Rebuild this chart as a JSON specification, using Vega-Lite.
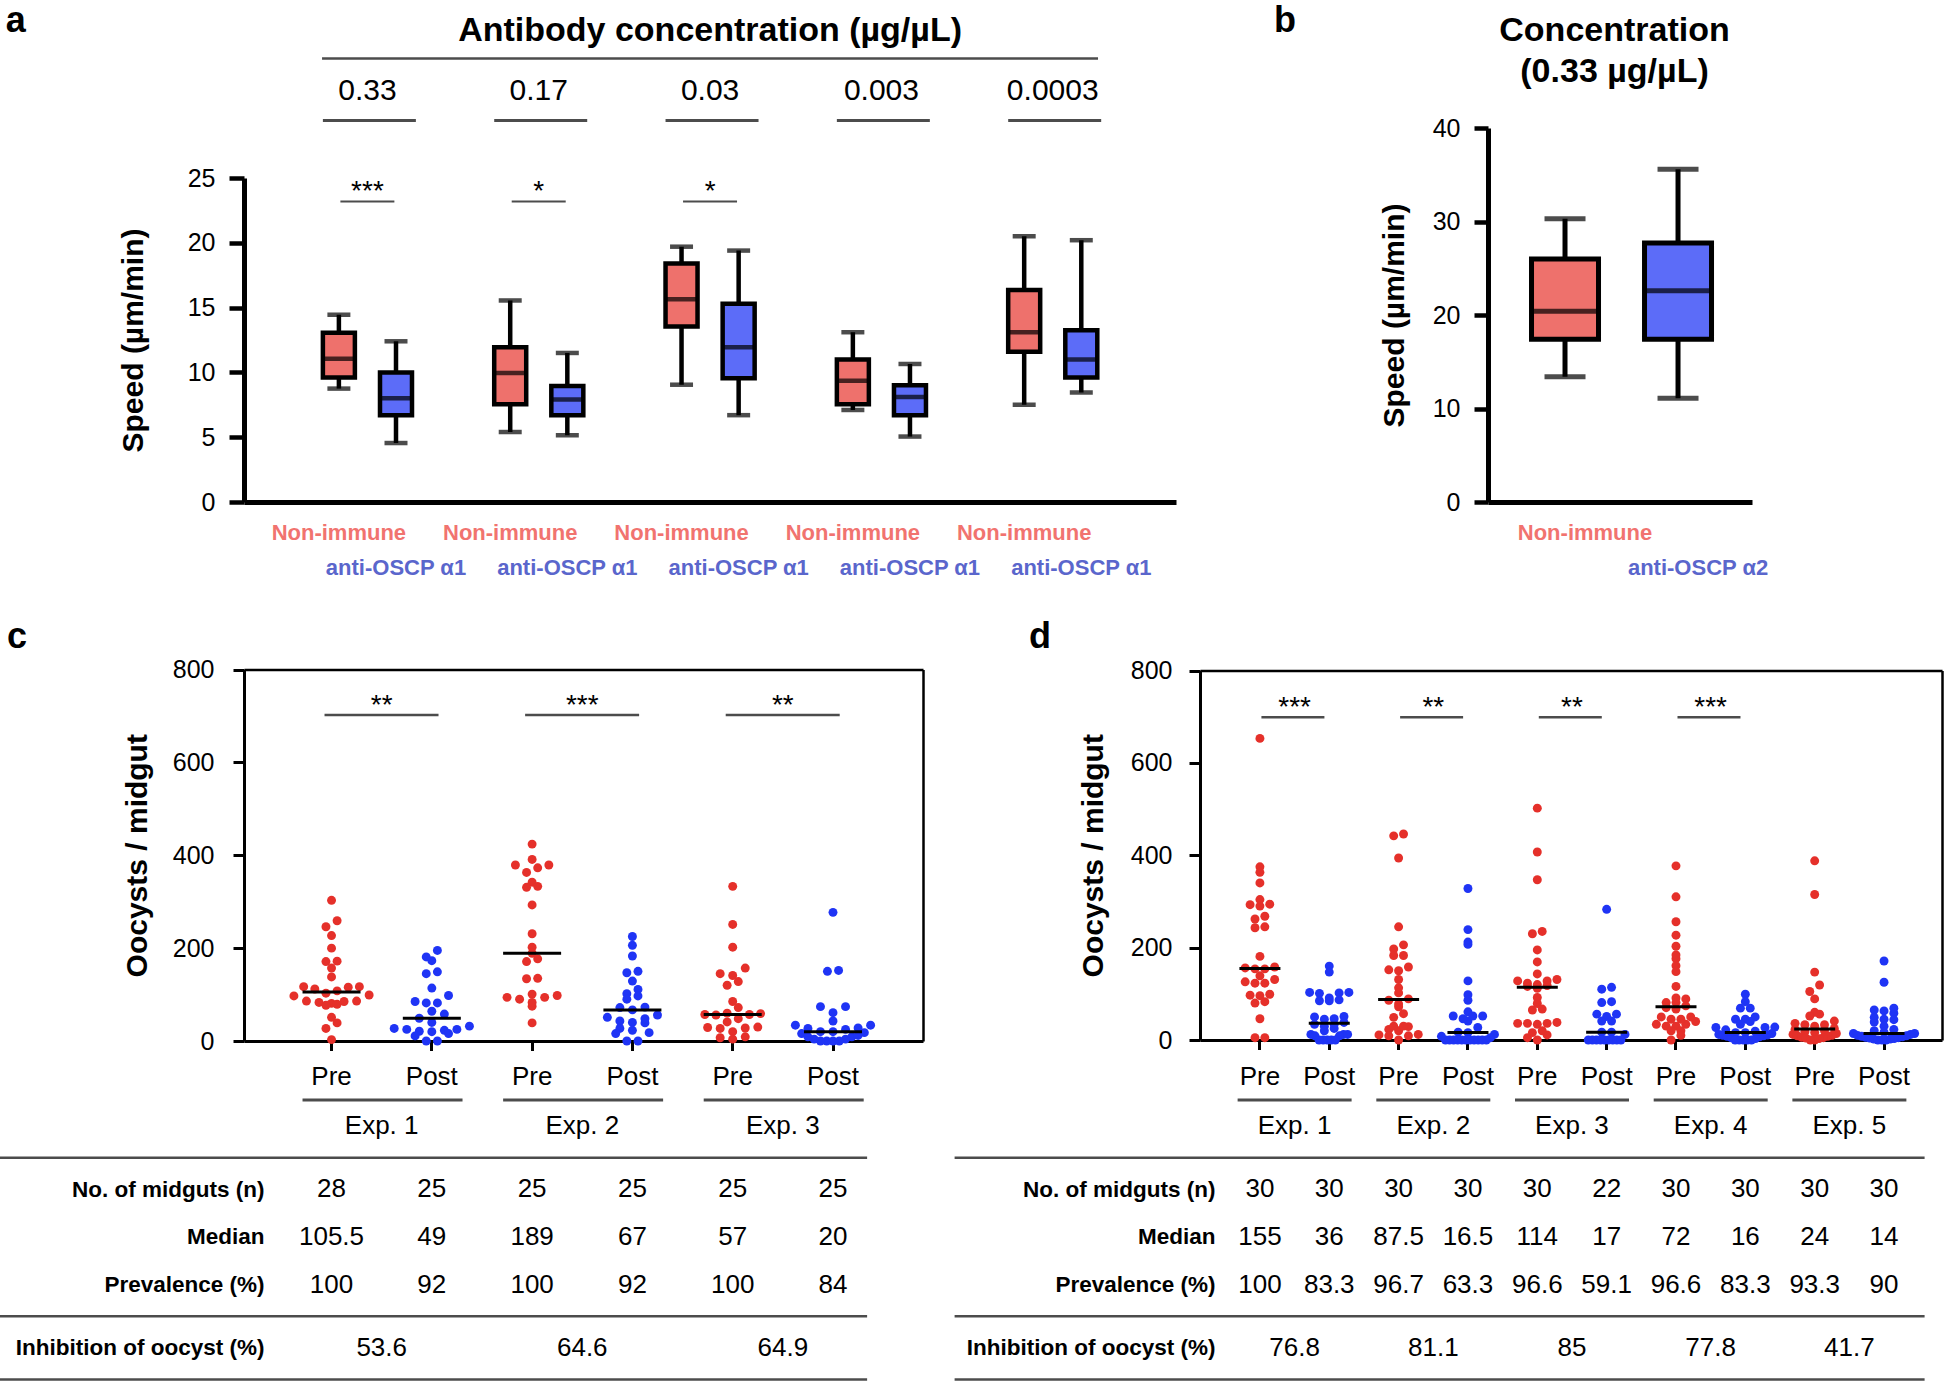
{
"$schema": "https://vega.github.io/schema/vega-lite/v6.json",
"width": 1947, "height": 1384, "padding": 0,
"autosize": {"type": "none"},
"background": "white",
"config": {
  "view": {"stroke": null},
  "font": "Liberation Sans",
  "axis": {"grid": false, "labelFont": "Liberation Sans", "titleFont": "Liberation Sans", "domainColor": "black", "tickColor": "black", "labelColor": "black", "titleColor": "black", "labelOverlap": false, "labelBound": false, "labelFlush": false, "labelLimit": 0},
  "text": {"font": "Liberation Sans", "color": "black"}
},
"resolve": {"scale": {"x": "independent", "y": "independent", "xOffset": "independent"}, "axis": {"x": "independent", "y": "independent"}},
"datasets": {
  "boxA": [
    {"key":"0.33|Non-immune","group":"Non-immune","lo":8.75,"q1":9.6,"med":11.05,"q3":13.05,"hi":14.45},
    {"key":"0.33|anti-OSCP α1","group":"anti-OSCP α1","lo":4.55,"q1":6.7,"med":8.0,"q3":10.0,"hi":12.4},
    {"key":"0.17|Non-immune","group":"Non-immune","lo":5.4,"q1":7.55,"med":9.95,"q3":11.95,"hi":15.55},
    {"key":"0.17|anti-OSCP α1","group":"anti-OSCP α1","lo":5.15,"q1":6.7,"med":7.9,"q3":8.95,"hi":11.5},
    {"key":"0.03|Non-immune","group":"Non-immune","lo":9.05,"q1":13.55,"med":15.65,"q3":18.4,"hi":19.7},
    {"key":"0.03|anti-OSCP α1","group":"anti-OSCP α1","lo":6.7,"q1":9.55,"med":11.95,"q3":15.3,"hi":19.4},
    {"key":"0.003|Non-immune","group":"Non-immune","lo":7.1,"q1":7.55,"med":9.35,"q3":11.0,"hi":13.1},
    {"key":"0.003|anti-OSCP α1","group":"anti-OSCP α1","lo":5.05,"q1":6.7,"med":8.1,"q3":9.0,"hi":10.65},
    {"key":"0.0003|Non-immune","group":"Non-immune","lo":7.5,"q1":11.6,"med":13.1,"q3":16.35,"hi":20.5},
    {"key":"0.0003|anti-OSCP α1","group":"anti-OSCP α1","lo":8.45,"q1":9.6,"med":11.0,"q3":13.25,"hi":20.2}
  ],
  "boxB": [
    {"group":"Non-immune","lo":13.4,"q1":17.4,"med":20.4,"q3":26.0,"hi":30.3},
    {"group":"anti-OSCP α2","lo":11.1,"q1":17.4,"med":22.6,"q3":27.7,"hi":35.6}
  ],
  "concA": [
    {"conc":"0.33","ni":"0.33|Non-immune"},
    {"conc":"0.17","ni":"0.17|Non-immune"},
    {"conc":"0.03","ni":"0.03|Non-immune"},
    {"conc":"0.003","ni":"0.003|Non-immune"},
    {"conc":"0.0003","ni":"0.0003|Non-immune"}
  ],
  "sigA": [
    {"ni":"0.33|Non-immune","stars":"***"},
    {"ni":"0.17|Non-immune","stars":"*"},
    {"ni":"0.03|Non-immune","stars":"*"}
  ],
  "sigC": [
    {"pre":"Exp. 1|Pre","stars":"**"},
    {"pre":"Exp. 2|Pre","stars":"***"},
    {"pre":"Exp. 3|Pre","stars":"**"}
  ],
  "sigD": [
    {"pre":"Exp. 1|Pre","stars":"***"},
    {"pre":"Exp. 2|Pre","stars":"**"},
    {"pre":"Exp. 3|Pre","stars":"**"},
    {"pre":"Exp. 4|Pre","stars":"***"}
  ],
  "expC": [
    {"exp":"Exp. 1","pre":"Exp. 1|Pre","inhib":"53.6"},
    {"exp":"Exp. 2","pre":"Exp. 2|Pre","inhib":"64.6"},
    {"exp":"Exp. 3","pre":"Exp. 3|Pre","inhib":"64.9"}
  ],
  "expD": [
    {"exp":"Exp. 1","pre":"Exp. 1|Pre","inhib":"76.8"},
    {"exp":"Exp. 2","pre":"Exp. 2|Pre","inhib":"81.1"},
    {"exp":"Exp. 3","pre":"Exp. 3|Pre","inhib":"85"},
    {"exp":"Exp. 4","pre":"Exp. 4|Pre","inhib":"77.8"},
    {"exp":"Exp. 5","pre":"Exp. 5|Pre","inhib":"41.7"}
  ],
  "lines": [{"line":"line1"},{"line":"line2"},{"line":"line3"}],
  "tabC": [
    {"row":"No. of midguts (n)","cat":"Exp. 1|Pre","val":"28"},
    {"row":"No. of midguts (n)","cat":"Exp. 1|Post","val":"25"},
    {"row":"No. of midguts (n)","cat":"Exp. 2|Pre","val":"25"},
    {"row":"No. of midguts (n)","cat":"Exp. 2|Post","val":"25"},
    {"row":"No. of midguts (n)","cat":"Exp. 3|Pre","val":"25"},
    {"row":"No. of midguts (n)","cat":"Exp. 3|Post","val":"25"},
    {"row":"Median","cat":"Exp. 1|Pre","val":"105.5"},
    {"row":"Median","cat":"Exp. 1|Post","val":"49"},
    {"row":"Median","cat":"Exp. 2|Pre","val":"189"},
    {"row":"Median","cat":"Exp. 2|Post","val":"67"},
    {"row":"Median","cat":"Exp. 3|Pre","val":"57"},
    {"row":"Median","cat":"Exp. 3|Post","val":"20"},
    {"row":"Prevalence (%)","cat":"Exp. 1|Pre","val":"100"},
    {"row":"Prevalence (%)","cat":"Exp. 1|Post","val":"92"},
    {"row":"Prevalence (%)","cat":"Exp. 2|Pre","val":"100"},
    {"row":"Prevalence (%)","cat":"Exp. 2|Post","val":"92"},
    {"row":"Prevalence (%)","cat":"Exp. 3|Pre","val":"100"},
    {"row":"Prevalence (%)","cat":"Exp. 3|Post","val":"84"}
  ],
  "tabD": [
    {"row":"No. of midguts (n)","cat":"Exp. 1|Pre","val":"30"},
    {"row":"No. of midguts (n)","cat":"Exp. 1|Post","val":"30"},
    {"row":"No. of midguts (n)","cat":"Exp. 2|Pre","val":"30"},
    {"row":"No. of midguts (n)","cat":"Exp. 2|Post","val":"30"},
    {"row":"No. of midguts (n)","cat":"Exp. 3|Pre","val":"30"},
    {"row":"No. of midguts (n)","cat":"Exp. 3|Post","val":"22"},
    {"row":"No. of midguts (n)","cat":"Exp. 4|Pre","val":"30"},
    {"row":"No. of midguts (n)","cat":"Exp. 4|Post","val":"30"},
    {"row":"No. of midguts (n)","cat":"Exp. 5|Pre","val":"30"},
    {"row":"No. of midguts (n)","cat":"Exp. 5|Post","val":"30"},
    {"row":"Median","cat":"Exp. 1|Pre","val":"155"},
    {"row":"Median","cat":"Exp. 1|Post","val":"36"},
    {"row":"Median","cat":"Exp. 2|Pre","val":"87.5"},
    {"row":"Median","cat":"Exp. 2|Post","val":"16.5"},
    {"row":"Median","cat":"Exp. 3|Pre","val":"114"},
    {"row":"Median","cat":"Exp. 3|Post","val":"17"},
    {"row":"Median","cat":"Exp. 4|Pre","val":"72"},
    {"row":"Median","cat":"Exp. 4|Post","val":"16"},
    {"row":"Median","cat":"Exp. 5|Pre","val":"24"},
    {"row":"Median","cat":"Exp. 5|Post","val":"14"},
    {"row":"Prevalence (%)","cat":"Exp. 1|Pre","val":"100"},
    {"row":"Prevalence (%)","cat":"Exp. 1|Post","val":"83.3"},
    {"row":"Prevalence (%)","cat":"Exp. 2|Pre","val":"96.7"},
    {"row":"Prevalence (%)","cat":"Exp. 2|Post","val":"63.3"},
    {"row":"Prevalence (%)","cat":"Exp. 3|Pre","val":"96.6"},
    {"row":"Prevalence (%)","cat":"Exp. 3|Post","val":"59.1"},
    {"row":"Prevalence (%)","cat":"Exp. 4|Pre","val":"96.6"},
    {"row":"Prevalence (%)","cat":"Exp. 4|Post","val":"83.3"},
    {"row":"Prevalence (%)","cat":"Exp. 5|Pre","val":"93.3"},
    {"row":"Prevalence (%)","cat":"Exp. 5|Post","val":"90"}
  ],
  "cDots": [
    {"cat":"Exp. 1|Pre","oocysts":303},{"cat":"Exp. 1|Pre","oocysts":259},{"cat":"Exp. 1|Pre","oocysts":246},{"cat":"Exp. 1|Pre","oocysts":227},{"cat":"Exp. 1|Pre","oocysts":200},{"cat":"Exp. 1|Pre","oocysts":172},{"cat":"Exp. 1|Pre","oocysts":171},{"cat":"Exp. 1|Pre","oocysts":157},{"cat":"Exp. 1|Pre","oocysts":138},{"cat":"Exp. 1|Pre","oocysts":117},{"cat":"Exp. 1|Pre","oocysts":112},{"cat":"Exp. 1|Pre","oocysts":103},{"cat":"Exp. 1|Pre","oocysts":108},{"cat":"Exp. 1|Pre","oocysts":116},{"cat":"Exp. 1|Pre","oocysts":117},{"cat":"Exp. 1|Pre","oocysts":99},{"cat":"Exp. 1|Pre","oocysts":86},{"cat":"Exp. 1|Pre","oocysts":85},{"cat":"Exp. 1|Pre","oocysts":81},{"cat":"Exp. 1|Pre","oocysts":77},{"cat":"Exp. 1|Pre","oocysts":79},{"cat":"Exp. 1|Pre","oocysts":83},{"cat":"Exp. 1|Pre","oocysts":86},{"cat":"Exp. 1|Pre","oocysts":97},{"cat":"Exp. 1|Pre","oocysts":51},{"cat":"Exp. 1|Pre","oocysts":39},{"cat":"Exp. 1|Pre","oocysts":27},{"cat":"Exp. 1|Pre","oocysts":3},
    {"cat":"Exp. 1|Post","oocysts":195},{"cat":"Exp. 1|Post","oocysts":173},{"cat":"Exp. 1|Post","oocysts":181},{"cat":"Exp. 1|Post","oocysts":145},{"cat":"Exp. 1|Post","oocysts":149},{"cat":"Exp. 1|Post","oocysts":114},{"cat":"Exp. 1|Post","oocysts":98},{"cat":"Exp. 1|Post","oocysts":85},{"cat":"Exp. 1|Post","oocysts":82},{"cat":"Exp. 1|Post","oocysts":82},{"cat":"Exp. 1|Post","oocysts":64},{"cat":"Exp. 1|Post","oocysts":58},{"cat":"Exp. 1|Post","oocysts":49},{"cat":"Exp. 1|Post","oocysts":40},{"cat":"Exp. 1|Post","oocysts":32},{"cat":"Exp. 1|Post","oocysts":27},{"cat":"Exp. 1|Post","oocysts":25},{"cat":"Exp. 1|Post","oocysts":21},{"cat":"Exp. 1|Post","oocysts":23},{"cat":"Exp. 1|Post","oocysts":25},{"cat":"Exp. 1|Post","oocysts":16},{"cat":"Exp. 1|Post","oocysts":0},{"cat":"Exp. 1|Post","oocysts":0},{"cat":"Exp. 1|Post","oocysts":11},{"cat":"Exp. 1|Post","oocysts":20},
    {"cat":"Exp. 2|Pre","oocysts":424},{"cat":"Exp. 2|Pre","oocysts":391},{"cat":"Exp. 2|Pre","oocysts":379},{"cat":"Exp. 2|Pre","oocysts":379},{"cat":"Exp. 2|Pre","oocysts":373},{"cat":"Exp. 2|Pre","oocysts":363},{"cat":"Exp. 2|Pre","oocysts":342},{"cat":"Exp. 2|Pre","oocysts":331},{"cat":"Exp. 2|Pre","oocysts":333},{"cat":"Exp. 2|Pre","oocysts":293},{"cat":"Exp. 2|Pre","oocysts":231},{"cat":"Exp. 2|Pre","oocysts":202},{"cat":"Exp. 2|Pre","oocysts":189},{"cat":"Exp. 2|Pre","oocysts":171},{"cat":"Exp. 2|Pre","oocysts":177},{"cat":"Exp. 2|Pre","oocysts":134},{"cat":"Exp. 2|Pre","oocysts":135},{"cat":"Exp. 2|Pre","oocysts":94},{"cat":"Exp. 2|Pre","oocysts":90},{"cat":"Exp. 2|Pre","oocysts":101},{"cat":"Exp. 2|Pre","oocysts":94},{"cat":"Exp. 2|Pre","oocysts":98},{"cat":"Exp. 2|Pre","oocysts":75},{"cat":"Exp. 2|Pre","oocysts":83},{"cat":"Exp. 2|Pre","oocysts":39},
    {"cat":"Exp. 2|Post","oocysts":225},{"cat":"Exp. 2|Post","oocysts":206},{"cat":"Exp. 2|Post","oocysts":183},{"cat":"Exp. 2|Post","oocysts":147},{"cat":"Exp. 2|Post","oocysts":150},{"cat":"Exp. 2|Post","oocysts":129},{"cat":"Exp. 2|Post","oocysts":102},{"cat":"Exp. 2|Post","oocysts":111},{"cat":"Exp. 2|Post","oocysts":90},{"cat":"Exp. 2|Post","oocysts":97},{"cat":"Exp. 2|Post","oocysts":73},{"cat":"Exp. 2|Post","oocysts":67},{"cat":"Exp. 2|Post","oocysts":72},{"cat":"Exp. 2|Post","oocysts":56},{"cat":"Exp. 2|Post","oocysts":51},{"cat":"Exp. 2|Post","oocysts":39},{"cat":"Exp. 2|Post","oocysts":48},{"cat":"Exp. 2|Post","oocysts":40},{"cat":"Exp. 2|Post","oocysts":43},{"cat":"Exp. 2|Post","oocysts":23},{"cat":"Exp. 2|Post","oocysts":16},{"cat":"Exp. 2|Post","oocysts":18},{"cat":"Exp. 2|Post","oocysts":27},{"cat":"Exp. 2|Post","oocysts":0},{"cat":"Exp. 2|Post","oocysts":0},
    {"cat":"Exp. 3|Pre","oocysts":333},{"cat":"Exp. 3|Pre","oocysts":251},{"cat":"Exp. 3|Pre","oocysts":202},{"cat":"Exp. 3|Pre","oocysts":157},{"cat":"Exp. 3|Pre","oocysts":141},{"cat":"Exp. 3|Pre","oocysts":145},{"cat":"Exp. 3|Pre","oocysts":120},{"cat":"Exp. 3|Pre","oocysts":128},{"cat":"Exp. 3|Pre","oocysts":85},{"cat":"Exp. 3|Pre","oocysts":72},{"cat":"Exp. 3|Pre","oocysts":60},{"cat":"Exp. 3|Pre","oocysts":59},{"cat":"Exp. 3|Pre","oocysts":57},{"cat":"Exp. 3|Pre","oocysts":57},{"cat":"Exp. 3|Pre","oocysts":56},{"cat":"Exp. 3|Pre","oocysts":48},{"cat":"Exp. 3|Pre","oocysts":41},{"cat":"Exp. 3|Pre","oocysts":30},{"cat":"Exp. 3|Pre","oocysts":29},{"cat":"Exp. 3|Pre","oocysts":28},{"cat":"Exp. 3|Pre","oocysts":27},{"cat":"Exp. 3|Pre","oocysts":20},{"cat":"Exp. 3|Pre","oocysts":9},{"cat":"Exp. 3|Pre","oocysts":7},{"cat":"Exp. 3|Pre","oocysts":4},
    {"cat":"Exp. 3|Post","oocysts":277},{"cat":"Exp. 3|Post","oocysts":150},{"cat":"Exp. 3|Post","oocysts":152},{"cat":"Exp. 3|Post","oocysts":74},{"cat":"Exp. 3|Post","oocysts":74},{"cat":"Exp. 3|Post","oocysts":61},{"cat":"Exp. 3|Post","oocysts":34},{"cat":"Exp. 3|Post","oocysts":28},{"cat":"Exp. 3|Post","oocysts":25},{"cat":"Exp. 3|Post","oocysts":27},{"cat":"Exp. 3|Post","oocysts":34},{"cat":"Exp. 3|Post","oocysts":43},{"cat":"Exp. 3|Post","oocysts":16},{"cat":"Exp. 3|Post","oocysts":20},{"cat":"Exp. 3|Post","oocysts":9},{"cat":"Exp. 3|Post","oocysts":4},{"cat":"Exp. 3|Post","oocysts":0},{"cat":"Exp. 3|Post","oocysts":0},{"cat":"Exp. 3|Post","oocysts":0},{"cat":"Exp. 3|Post","oocysts":0},{"cat":"Exp. 3|Post","oocysts":4},{"cat":"Exp. 3|Post","oocysts":9},{"cat":"Exp. 3|Post","oocysts":12},{"cat":"Exp. 3|Post","oocysts":18},{"cat":"Exp. 3|Post","oocysts":20}
  ],
  "dDots": [
    {"cat":"Exp. 1|Pre","oocysts":653},{"cat":"Exp. 1|Pre","oocysts":375},{"cat":"Exp. 1|Pre","oocysts":363},{"cat":"Exp. 1|Pre","oocysts":340},{"cat":"Exp. 1|Pre","oocysts":294},{"cat":"Exp. 1|Pre","oocysts":290},{"cat":"Exp. 1|Pre","oocysts":293},{"cat":"Exp. 1|Pre","oocysts":304},{"cat":"Exp. 1|Pre","oocysts":262},{"cat":"Exp. 1|Pre","oocysts":268},{"cat":"Exp. 1|Pre","oocysts":243},{"cat":"Exp. 1|Pre","oocysts":245},{"cat":"Exp. 1|Pre","oocysts":181},{"cat":"Exp. 1|Pre","oocysts":156},{"cat":"Exp. 1|Pre","oocysts":154},{"cat":"Exp. 1|Pre","oocysts":158},{"cat":"Exp. 1|Pre","oocysts":154},{"cat":"Exp. 1|Pre","oocysts":126},{"cat":"Exp. 1|Pre","oocysts":123},{"cat":"Exp. 1|Pre","oocysts":123},{"cat":"Exp. 1|Pre","oocysts":131},{"cat":"Exp. 1|Pre","oocysts":139},{"cat":"Exp. 1|Pre","oocysts":99},{"cat":"Exp. 1|Pre","oocysts":96},{"cat":"Exp. 1|Pre","oocysts":97},{"cat":"Exp. 1|Pre","oocysts":80},{"cat":"Exp. 1|Pre","oocysts":83},{"cat":"Exp. 1|Pre","oocysts":46},{"cat":"Exp. 1|Pre","oocysts":5},{"cat":"Exp. 1|Pre","oocysts":5},
    {"cat":"Exp. 1|Post","oocysts":160},{"cat":"Exp. 1|Post","oocysts":147},{"cat":"Exp. 1|Post","oocysts":101},{"cat":"Exp. 1|Post","oocysts":103},{"cat":"Exp. 1|Post","oocysts":102},{"cat":"Exp. 1|Post","oocysts":103},{"cat":"Exp. 1|Post","oocysts":87},{"cat":"Exp. 1|Post","oocysts":85},{"cat":"Exp. 1|Post","oocysts":85},{"cat":"Exp. 1|Post","oocysts":91},{"cat":"Exp. 1|Post","oocysts":50},{"cat":"Exp. 1|Post","oocysts":45},{"cat":"Exp. 1|Post","oocysts":46},{"cat":"Exp. 1|Post","oocysts":51},{"cat":"Exp. 1|Post","oocysts":38},{"cat":"Exp. 1|Post","oocysts":34},{"cat":"Exp. 1|Post","oocysts":30},{"cat":"Exp. 1|Post","oocysts":34},{"cat":"Exp. 1|Post","oocysts":25},{"cat":"Exp. 1|Post","oocysts":20},{"cat":"Exp. 1|Post","oocysts":12},{"cat":"Exp. 1|Post","oocysts":9},{"cat":"Exp. 1|Post","oocysts":12},{"cat":"Exp. 1|Post","oocysts":9},{"cat":"Exp. 1|Post","oocysts":12},{"cat":"Exp. 1|Post","oocysts":0},{"cat":"Exp. 1|Post","oocysts":0},{"cat":"Exp. 1|Post","oocysts":0},{"cat":"Exp. 1|Post","oocysts":0},{"cat":"Exp. 1|Post","oocysts":0},
    {"cat":"Exp. 2|Pre","oocysts":442},{"cat":"Exp. 2|Pre","oocysts":446},{"cat":"Exp. 2|Pre","oocysts":394},{"cat":"Exp. 2|Pre","oocysts":245},{"cat":"Exp. 2|Pre","oocysts":197},{"cat":"Exp. 2|Pre","oocysts":206},{"cat":"Exp. 2|Pre","oocysts":183},{"cat":"Exp. 2|Pre","oocysts":183},{"cat":"Exp. 2|Pre","oocysts":158},{"cat":"Exp. 2|Pre","oocysts":152},{"cat":"Exp. 2|Pre","oocysts":150},{"cat":"Exp. 2|Pre","oocysts":131},{"cat":"Exp. 2|Pre","oocysts":113},{"cat":"Exp. 2|Pre","oocysts":102},{"cat":"Exp. 2|Pre","oocysts":89},{"cat":"Exp. 2|Pre","oocysts":86},{"cat":"Exp. 2|Pre","oocysts":72},{"cat":"Exp. 2|Pre","oocysts":78},{"cat":"Exp. 2|Pre","oocysts":49},{"cat":"Exp. 2|Pre","oocysts":57},{"cat":"Exp. 2|Pre","oocysts":30},{"cat":"Exp. 2|Pre","oocysts":29},{"cat":"Exp. 2|Pre","oocysts":20},{"cat":"Exp. 2|Pre","oocysts":23},{"cat":"Exp. 2|Pre","oocysts":30},{"cat":"Exp. 2|Pre","oocysts":12},{"cat":"Exp. 2|Pre","oocysts":9},{"cat":"Exp. 2|Pre","oocysts":9},{"cat":"Exp. 2|Pre","oocysts":11},{"cat":"Exp. 2|Pre","oocysts":0},
    {"cat":"Exp. 2|Post","oocysts":328},{"cat":"Exp. 2|Post","oocysts":239},{"cat":"Exp. 2|Post","oocysts":212},{"cat":"Exp. 2|Post","oocysts":207},{"cat":"Exp. 2|Post","oocysts":128},{"cat":"Exp. 2|Post","oocysts":98},{"cat":"Exp. 2|Post","oocysts":86},{"cat":"Exp. 2|Post","oocysts":61},{"cat":"Exp. 2|Post","oocysts":52},{"cat":"Exp. 2|Post","oocysts":52},{"cat":"Exp. 2|Post","oocysts":52},{"cat":"Exp. 2|Post","oocysts":46},{"cat":"Exp. 2|Post","oocysts":41},{"cat":"Exp. 2|Post","oocysts":27},{"cat":"Exp. 2|Post","oocysts":17},{"cat":"Exp. 2|Post","oocysts":16},{"cat":"Exp. 2|Post","oocysts":12},{"cat":"Exp. 2|Post","oocysts":8},{"cat":"Exp. 2|Post","oocysts":5},{"cat":"Exp. 2|Post","oocysts":0},{"cat":"Exp. 2|Post","oocysts":0},{"cat":"Exp. 2|Post","oocysts":0},{"cat":"Exp. 2|Post","oocysts":0},{"cat":"Exp. 2|Post","oocysts":0},{"cat":"Exp. 2|Post","oocysts":0},{"cat":"Exp. 2|Post","oocysts":0},{"cat":"Exp. 2|Post","oocysts":0},{"cat":"Exp. 2|Post","oocysts":0},{"cat":"Exp. 2|Post","oocysts":0},{"cat":"Exp. 2|Post","oocysts":0},
    {"cat":"Exp. 3|Pre","oocysts":502},{"cat":"Exp. 3|Pre","oocysts":407},{"cat":"Exp. 3|Pre","oocysts":347},{"cat":"Exp. 3|Pre","oocysts":235},{"cat":"Exp. 3|Pre","oocysts":230},{"cat":"Exp. 3|Pre","oocysts":195},{"cat":"Exp. 3|Pre","oocysts":169},{"cat":"Exp. 3|Pre","oocysts":143},{"cat":"Exp. 3|Pre","oocysts":131},{"cat":"Exp. 3|Pre","oocysts":128},{"cat":"Exp. 3|Pre","oocysts":128},{"cat":"Exp. 3|Pre","oocysts":123},{"cat":"Exp. 3|Pre","oocysts":118},{"cat":"Exp. 3|Pre","oocysts":120},{"cat":"Exp. 3|Pre","oocysts":116},{"cat":"Exp. 3|Pre","oocysts":112},{"cat":"Exp. 3|Pre","oocysts":92},{"cat":"Exp. 3|Pre","oocysts":79},{"cat":"Exp. 3|Pre","oocysts":67},{"cat":"Exp. 3|Pre","oocysts":65},{"cat":"Exp. 3|Pre","oocysts":38},{"cat":"Exp. 3|Pre","oocysts":36},{"cat":"Exp. 3|Pre","oocysts":36},{"cat":"Exp. 3|Pre","oocysts":36},{"cat":"Exp. 3|Pre","oocysts":34},{"cat":"Exp. 3|Pre","oocysts":20},{"cat":"Exp. 3|Pre","oocysts":16},{"cat":"Exp. 3|Pre","oocysts":11},{"cat":"Exp. 3|Pre","oocysts":5},{"cat":"Exp. 3|Pre","oocysts":0},
    {"cat":"Exp. 3|Post","oocysts":283},{"cat":"Exp. 3|Post","oocysts":114},{"cat":"Exp. 3|Post","oocysts":110},{"cat":"Exp. 3|Post","oocysts":83},{"cat":"Exp. 3|Post","oocysts":81},{"cat":"Exp. 3|Post","oocysts":56},{"cat":"Exp. 3|Post","oocysts":56},{"cat":"Exp. 3|Post","oocysts":51},{"cat":"Exp. 3|Post","oocysts":41},{"cat":"Exp. 3|Post","oocysts":41},{"cat":"Exp. 3|Post","oocysts":17},{"cat":"Exp. 3|Post","oocysts":17},{"cat":"Exp. 3|Post","oocysts":12},{"cat":"Exp. 3|Post","oocysts":0},{"cat":"Exp. 3|Post","oocysts":0},{"cat":"Exp. 3|Post","oocysts":0},{"cat":"Exp. 3|Post","oocysts":0},{"cat":"Exp. 3|Post","oocysts":0},{"cat":"Exp. 3|Post","oocysts":0},{"cat":"Exp. 3|Post","oocysts":0},{"cat":"Exp. 3|Post","oocysts":0},{"cat":"Exp. 3|Post","oocysts":0},
    {"cat":"Exp. 4|Pre","oocysts":377},{"cat":"Exp. 4|Pre","oocysts":310},{"cat":"Exp. 4|Pre","oocysts":256},{"cat":"Exp. 4|Pre","oocysts":227},{"cat":"Exp. 4|Pre","oocysts":203},{"cat":"Exp. 4|Pre","oocysts":176},{"cat":"Exp. 4|Pre","oocysts":184},{"cat":"Exp. 4|Pre","oocysts":161},{"cat":"Exp. 4|Pre","oocysts":148},{"cat":"Exp. 4|Pre","oocysts":116},{"cat":"Exp. 4|Pre","oocysts":89},{"cat":"Exp. 4|Pre","oocysts":91},{"cat":"Exp. 4|Pre","oocysts":81},{"cat":"Exp. 4|Pre","oocysts":81},{"cat":"Exp. 4|Pre","oocysts":74},{"cat":"Exp. 4|Pre","oocysts":70},{"cat":"Exp. 4|Pre","oocysts":67},{"cat":"Exp. 4|Pre","oocysts":50},{"cat":"Exp. 4|Pre","oocysts":45},{"cat":"Exp. 4|Pre","oocysts":50},{"cat":"Exp. 4|Pre","oocysts":45},{"cat":"Exp. 4|Pre","oocysts":34},{"cat":"Exp. 4|Pre","oocysts":30},{"cat":"Exp. 4|Pre","oocysts":30},{"cat":"Exp. 4|Pre","oocysts":34},{"cat":"Exp. 4|Pre","oocysts":40},{"cat":"Exp. 4|Pre","oocysts":20},{"cat":"Exp. 4|Pre","oocysts":20},{"cat":"Exp. 4|Pre","oocysts":10},{"cat":"Exp. 4|Pre","oocysts":0},
    {"cat":"Exp. 4|Post","oocysts":99},{"cat":"Exp. 4|Post","oocysts":83},{"cat":"Exp. 4|Post","oocysts":69},{"cat":"Exp. 4|Post","oocysts":69},{"cat":"Exp. 4|Post","oocysts":45},{"cat":"Exp. 4|Post","oocysts":40},{"cat":"Exp. 4|Post","oocysts":45},{"cat":"Exp. 4|Post","oocysts":50},{"cat":"Exp. 4|Post","oocysts":27},{"cat":"Exp. 4|Post","oocysts":34},{"cat":"Exp. 4|Post","oocysts":27},{"cat":"Exp. 4|Post","oocysts":28},{"cat":"Exp. 4|Post","oocysts":22},{"cat":"Exp. 4|Post","oocysts":19},{"cat":"Exp. 4|Post","oocysts":16},{"cat":"Exp. 4|Post","oocysts":16},{"cat":"Exp. 4|Post","oocysts":14},{"cat":"Exp. 4|Post","oocysts":12},{"cat":"Exp. 4|Post","oocysts":11},{"cat":"Exp. 4|Post","oocysts":10},{"cat":"Exp. 4|Post","oocysts":9},{"cat":"Exp. 4|Post","oocysts":8},{"cat":"Exp. 4|Post","oocysts":7},{"cat":"Exp. 4|Post","oocysts":5},{"cat":"Exp. 4|Post","oocysts":3},{"cat":"Exp. 4|Post","oocysts":0},{"cat":"Exp. 4|Post","oocysts":0},{"cat":"Exp. 4|Post","oocysts":0},{"cat":"Exp. 4|Post","oocysts":0},{"cat":"Exp. 4|Post","oocysts":0},
    {"cat":"Exp. 5|Pre","oocysts":388},{"cat":"Exp. 5|Pre","oocysts":315},{"cat":"Exp. 5|Pre","oocysts":147},{"cat":"Exp. 5|Pre","oocysts":119},{"cat":"Exp. 5|Pre","oocysts":105},{"cat":"Exp. 5|Pre","oocysts":89},{"cat":"Exp. 5|Pre","oocysts":56},{"cat":"Exp. 5|Pre","oocysts":60},{"cat":"Exp. 5|Pre","oocysts":52},{"cat":"Exp. 5|Pre","oocysts":41},{"cat":"Exp. 5|Pre","oocysts":33},{"cat":"Exp. 5|Pre","oocysts":30},{"cat":"Exp. 5|Pre","oocysts":33},{"cat":"Exp. 5|Pre","oocysts":36},{"cat":"Exp. 5|Pre","oocysts":25},{"cat":"Exp. 5|Pre","oocysts":23},{"cat":"Exp. 5|Pre","oocysts":20},{"cat":"Exp. 5|Pre","oocysts":18},{"cat":"Exp. 5|Pre","oocysts":16},{"cat":"Exp. 5|Pre","oocysts":14},{"cat":"Exp. 5|Pre","oocysts":12},{"cat":"Exp. 5|Pre","oocysts":10},{"cat":"Exp. 5|Pre","oocysts":9},{"cat":"Exp. 5|Pre","oocysts":8},{"cat":"Exp. 5|Pre","oocysts":6},{"cat":"Exp. 5|Pre","oocysts":5},{"cat":"Exp. 5|Pre","oocysts":4},{"cat":"Exp. 5|Pre","oocysts":3},{"cat":"Exp. 5|Pre","oocysts":0},{"cat":"Exp. 5|Pre","oocysts":0},
    {"cat":"Exp. 5|Post","oocysts":171},{"cat":"Exp. 5|Post","oocysts":125},{"cat":"Exp. 5|Post","oocysts":65},{"cat":"Exp. 5|Post","oocysts":58},{"cat":"Exp. 5|Post","oocysts":63},{"cat":"Exp. 5|Post","oocysts":69},{"cat":"Exp. 5|Post","oocysts":45},{"cat":"Exp. 5|Post","oocysts":39},{"cat":"Exp. 5|Post","oocysts":44},{"cat":"Exp. 5|Post","oocysts":49},{"cat":"Exp. 5|Post","oocysts":30},{"cat":"Exp. 5|Post","oocysts":23},{"cat":"Exp. 5|Post","oocysts":20},{"cat":"Exp. 5|Post","oocysts":17},{"cat":"Exp. 5|Post","oocysts":14},{"cat":"Exp. 5|Post","oocysts":14},{"cat":"Exp. 5|Post","oocysts":12},{"cat":"Exp. 5|Post","oocysts":10},{"cat":"Exp. 5|Post","oocysts":9},{"cat":"Exp. 5|Post","oocysts":8},{"cat":"Exp. 5|Post","oocysts":7},{"cat":"Exp. 5|Post","oocysts":6},{"cat":"Exp. 5|Post","oocysts":5},{"cat":"Exp. 5|Post","oocysts":4},{"cat":"Exp. 5|Post","oocysts":3},{"cat":"Exp. 5|Post","oocysts":2},{"cat":"Exp. 5|Post","oocysts":2},{"cat":"Exp. 5|Post","oocysts":0},{"cat":"Exp. 5|Post","oocysts":0},{"cat":"Exp. 5|Post","oocysts":0}
  ]
},
"layer": [
  {"data":{"name":"boxA"},"mark":{"type":"rule","strokeWidth":4.5,"color":"black"},
   "encoding":{
     "x":{"field":"key","type":"nominal","scale":{"type":"band","domain":["0.33|Non-immune","0.33|anti-OSCP α1","gap1","0.17|Non-immune","0.17|anti-OSCP α1","gap2","0.03|Non-immune","0.03|anti-OSCP α1","gap3","0.003|Non-immune","0.003|anti-OSCP α1","gap4","0.0003|Non-immune","0.0003|anti-OSCP α1","gap5"],"range":[244,1176],"paddingInner":0,"paddingOuter":0.66,"align":0.88},
       "axis":{"orient":"bottom","offset":-882,"ticks":false,"domain":true,"domainWidth":5,"title":null,"labelAngle":0,"labelFontSize":22,"labelFontWeight":"bold","labelBaseline":"alphabetic","labelPadding":37.5,"labelLineHeight":34.5,
         "labelExpr":"indexof(datum.value,'Non-immune')>=0 ? 'Non-immune' : (indexof(datum.value,'anti')>=0 ? ['', 'anti-OSCP α1'] : '')",
         "labelColor":{"condition":{"test":"indexof(datum.value,'Non-immune')>=0","value":"#F1736F"},"value":"#5A66CC"}}},
     "y":{"field":"lo","type":"quantitative","scale":{"domain":[0,25],"range":[502,178],"nice":false,"zero":false},
       "axis":{"orient":"left","offset":-244,"values":[0,5,10,15,20,25],"tickSize":15,"tickWidth":4.5,"domainWidth":5,"labelFontSize":25,"labelPadding":14,"title":"Speed (µm/min)","titleFontSize":30,"titleFontWeight":"bold","titleX":-102,"titleBaseline":"alphabetic","titleAngle":-90}},
     "y2":{"field":"hi"}}},
  {"data":{"name":"boxA"},"mark":{"type":"tick","orient":"horizontal","size":23,"thickness":4.5,"color":"black"},
   "encoding":{
     "x":{"field":"key","type":"nominal","scale":{"type":"band","domain":["0.33|Non-immune","0.33|anti-OSCP α1","gap1","0.17|Non-immune","0.17|anti-OSCP α1","gap2","0.03|Non-immune","0.03|anti-OSCP α1","gap3","0.003|Non-immune","0.003|anti-OSCP α1","gap4","0.0003|Non-immune","0.0003|anti-OSCP α1","gap5"],"range":[244,1176],"paddingInner":0,"paddingOuter":0.66,"align":0.88},"axis":null},
     "y":{"field":"lo","type":"quantitative","scale":{"domain":[0,25],"range":[502,178],"nice":false,"zero":false},"axis":null}}},
  {"data":{"name":"boxA"},"mark":{"type":"tick","orient":"horizontal","size":23,"thickness":4.5,"color":"black"},
   "encoding":{
     "x":{"field":"key","type":"nominal","scale":{"type":"band","domain":["0.33|Non-immune","0.33|anti-OSCP α1","gap1","0.17|Non-immune","0.17|anti-OSCP α1","gap2","0.03|Non-immune","0.03|anti-OSCP α1","gap3","0.003|Non-immune","0.003|anti-OSCP α1","gap4","0.0003|Non-immune","0.0003|anti-OSCP α1","gap5"],"range":[244,1176],"paddingInner":0,"paddingOuter":0.66,"align":0.88},"axis":null},
     "y":{"field":"hi","type":"quantitative","scale":{"domain":[0,25],"range":[502,178],"nice":false,"zero":false},"axis":null}}},
  {"data":{"name":"boxA"},"mark":{"type":"bar","size":32,"stroke":"black","strokeWidth":4.5},
   "encoding":{
     "x":{"field":"key","type":"nominal","scale":{"type":"band","domain":["0.33|Non-immune","0.33|anti-OSCP α1","gap1","0.17|Non-immune","0.17|anti-OSCP α1","gap2","0.03|Non-immune","0.03|anti-OSCP α1","gap3","0.003|Non-immune","0.003|anti-OSCP α1","gap4","0.0003|Non-immune","0.0003|anti-OSCP α1","gap5"],"range":[244,1176],"paddingInner":0,"paddingOuter":0.66,"align":0.88},"axis":null},
     "y":{"field":"q1","type":"quantitative","scale":{"domain":[0,25],"range":[502,178],"nice":false,"zero":false},"axis":null},
     "y2":{"field":"q3"},
     "fill":{"condition":{"test":"datum.group == 'Non-immune'","value":"#EE716C"},"value":"#5C6CF8"}}},
  {"data":{"name":"boxA"},"mark":{"type":"tick","orient":"horizontal","size":32,"thickness":4.5,"color":"black"},
   "encoding":{
     "x":{"field":"key","type":"nominal","scale":{"type":"band","domain":["0.33|Non-immune","0.33|anti-OSCP α1","gap1","0.17|Non-immune","0.17|anti-OSCP α1","gap2","0.03|Non-immune","0.03|anti-OSCP α1","gap3","0.003|Non-immune","0.003|anti-OSCP α1","gap4","0.0003|Non-immune","0.0003|anti-OSCP α1","gap5"],"range":[244,1176],"paddingInner":0,"paddingOuter":0.66,"align":0.88},"axis":null},
     "y":{"field":"med","type":"quantitative","scale":{"domain":[0,25],"range":[502,178],"nice":false,"zero":false},"axis":null}}},
  {"data":{"values":[{"label":"Antibody concentration (µg/µL)"}]},"mark":{"type":"text","fontSize":34,"fontWeight":"bold","align":"center","baseline":"middle"},
   "encoding":{
     "x":{"datum":"0.03|Non-immune","bandPosition":1,"type":"nominal","scale":{"type":"band","domain":["0.33|Non-immune","0.33|anti-OSCP α1","gap1","0.17|Non-immune","0.17|anti-OSCP α1","gap2","0.03|Non-immune","0.03|anti-OSCP α1","gap3","0.003|Non-immune","0.003|anti-OSCP α1","gap4","0.0003|Non-immune","0.0003|anti-OSCP α1","gap5"],"range":[244,1176],"paddingInner":0,"paddingOuter":0.66,"align":0.88},"axis":null},
     "y":{"datum":36.34,"type":"quantitative","scale":{"domain":[0,25],"range":[502,178],"nice":false,"zero":false},"axis":null},
     "text":{"field":"label"}}},
  {"data":{"values":[{"label":"a"}]},"mark":{"type":"text","fontSize":36,"fontWeight":"bold","align":"center","baseline":"alphabetic","dx":-323},
   "encoding":{
     "x":{"datum":"0.33|Non-immune","type":"nominal","scale":{"type":"band","domain":["0.33|Non-immune","0.33|anti-OSCP α1","gap1","0.17|Non-immune","0.17|anti-OSCP α1","gap2","0.03|Non-immune","0.03|anti-OSCP α1","gap3","0.003|Non-immune","0.003|anti-OSCP α1","gap4","0.0003|Non-immune","0.0003|anti-OSCP α1","gap5"],"range":[244,1176],"paddingInner":0,"paddingOuter":0.66,"align":0.88},"axis":null},
     "y":{"datum":36.27,"type":"quantitative","scale":{"domain":[0,25],"range":[502,178],"nice":false,"zero":false},"axis":null},
     "text":{"field":"label"}}},
  {"data":{"values":[{"label":"all"}]},"mark":{"type":"tick","orient":"horizontal","size":776,"thickness":2.5,"xOffset":28.5,"color":"black"},
   "encoding":{
     "x":{"datum":"0.03|Non-immune","type":"nominal","scale":{"type":"band","domain":["0.33|Non-immune","0.33|anti-OSCP α1","gap1","0.17|Non-immune","0.17|anti-OSCP α1","gap2","0.03|Non-immune","0.03|anti-OSCP α1","gap3","0.003|Non-immune","0.003|anti-OSCP α1","gap4","0.0003|Non-immune","0.0003|anti-OSCP α1","gap5"],"range":[244,1176],"paddingInner":0,"paddingOuter":0.66,"align":0.88},"axis":null},
     "y":{"datum":34.23,"type":"quantitative","scale":{"domain":[0,25],"range":[502,178],"nice":false,"zero":false},"axis":null}}},
  {"data":{"name":"concA"},"mark":{"type":"text","fontSize":30,"align":"center","baseline":"middle"},
   "encoding":{
     "x":{"field":"ni","type":"nominal","bandPosition":1,"scale":{"type":"band","domain":["0.33|Non-immune","0.33|anti-OSCP α1","gap1","0.17|Non-immune","0.17|anti-OSCP α1","gap2","0.03|Non-immune","0.03|anti-OSCP α1","gap3","0.003|Non-immune","0.003|anti-OSCP α1","gap4","0.0003|Non-immune","0.0003|anti-OSCP α1","gap5"],"range":[244,1176],"paddingInner":0,"paddingOuter":0.66,"align":0.88},"axis":null},
     "y":{"datum":31.74,"type":"quantitative","scale":{"domain":[0,25],"range":[502,178],"nice":false,"zero":false},"axis":null},
     "text":{"field":"conc"}}},
  {"data":{"name":"concA"},"mark":{"type":"tick","orient":"horizontal","size":93,"thickness":3,"xOffset":30.5,"color":"black"},
   "encoding":{
     "x":{"field":"ni","type":"nominal","scale":{"type":"band","domain":["0.33|Non-immune","0.33|anti-OSCP α1","gap1","0.17|Non-immune","0.17|anti-OSCP α1","gap2","0.03|Non-immune","0.03|anti-OSCP α1","gap3","0.003|Non-immune","0.003|anti-OSCP α1","gap4","0.0003|Non-immune","0.0003|anti-OSCP α1","gap5"],"range":[244,1176],"paddingInner":0,"paddingOuter":0.66,"align":0.88},"axis":null},
     "y":{"datum":29.44,"type":"quantitative","scale":{"domain":[0,25],"range":[502,178],"nice":false,"zero":false},"axis":null}}},
  {"data":{"name":"sigA"},"mark":{"type":"tick","orient":"horizontal","size":54,"thickness":2,"xOffset":28.5,"color":"black"},
   "encoding":{
     "x":{"field":"ni","type":"nominal","scale":{"type":"band","domain":["0.33|Non-immune","0.33|anti-OSCP α1","gap1","0.17|Non-immune","0.17|anti-OSCP α1","gap2","0.03|Non-immune","0.03|anti-OSCP α1","gap3","0.003|Non-immune","0.003|anti-OSCP α1","gap4","0.0003|Non-immune","0.0003|anti-OSCP α1","gap5"],"range":[244,1176],"paddingInner":0,"paddingOuter":0.66,"align":0.88},"axis":null},
     "y":{"datum":23.19,"type":"quantitative","scale":{"domain":[0,25],"range":[502,178],"nice":false,"zero":false},"axis":null}}},
  {"data":{"name":"sigA"},"mark":{"type":"text","fontSize":28,"align":"center","baseline":"alphabetic","dy":-1},
   "encoding":{
     "x":{"field":"ni","type":"nominal","bandPosition":1,"scale":{"type":"band","domain":["0.33|Non-immune","0.33|anti-OSCP α1","gap1","0.17|Non-immune","0.17|anti-OSCP α1","gap2","0.03|Non-immune","0.03|anti-OSCP α1","gap3","0.003|Non-immune","0.003|anti-OSCP α1","gap4","0.0003|Non-immune","0.0003|anti-OSCP α1","gap5"],"range":[244,1176],"paddingInner":0,"paddingOuter":0.66,"align":0.88},"axis":null},
     "y":{"datum":23.19,"type":"quantitative","scale":{"domain":[0,25],"range":[502,178],"nice":false,"zero":false},"axis":null},
     "text":{"field":"stars"}}},

  {"data":{"name":"boxB"},"mark":{"type":"rule","strokeWidth":5,"color":"black"},
   "encoding":{
     "x":{"field":"group","type":"nominal","scale":{"type":"band","domain":["Non-immune","anti-OSCP α2"],"range":[1488,1752],"paddingInner":0,"paddingOuter":0.168,"align":0.54},
       "axis":{"orient":"bottom","offset":-882,"ticks":false,"domain":true,"domainWidth":5,"title":null,"labelAngle":0,"labelFontSize":22,"labelFontWeight":"bold","labelBaseline":"alphabetic","labelPadding":37.5,"labelLineHeight":34.5,"labelOffset":20,
         "labelExpr":"datum.value == 'Non-immune' ? 'Non-immune' : ['', 'anti-OSCP α2']",
         "labelColor":{"condition":{"test":"datum.value == 'Non-immune'","value":"#F1736F"},"value":"#5A66CC"}}},
     "y":{"field":"lo","type":"quantitative","scale":{"domain":[0,40],"range":[502,128],"nice":false,"zero":false},
       "axis":{"orient":"left","offset":-1488,"values":[0,10,20,30,40],"tickSize":14,"tickWidth":4.5,"domainWidth":5,"labelFontSize":25,"labelPadding":14,"title":"Speed (µm/min)","titleFontSize":30,"titleFontWeight":"bold","titleX":-85,"titleBaseline":"alphabetic","titleAngle":-90}},
     "y2":{"field":"hi"}}},
  {"data":{"name":"boxB"},"mark":{"type":"tick","orient":"horizontal","size":41,"thickness":5,"color":"black"},
   "encoding":{
     "x":{"field":"group","type":"nominal","scale":{"type":"band","domain":["Non-immune","anti-OSCP α2"],"range":[1488,1752],"paddingInner":0,"paddingOuter":0.168,"align":0.54},"axis":null},
     "y":{"field":"lo","type":"quantitative","scale":{"domain":[0,40],"range":[502,128],"nice":false,"zero":false},"axis":null}}},
  {"data":{"name":"boxB"},"mark":{"type":"tick","orient":"horizontal","size":41,"thickness":5,"color":"black"},
   "encoding":{
     "x":{"field":"group","type":"nominal","scale":{"type":"band","domain":["Non-immune","anti-OSCP α2"],"range":[1488,1752],"paddingInner":0,"paddingOuter":0.168,"align":0.54},"axis":null},
     "y":{"field":"hi","type":"quantitative","scale":{"domain":[0,40],"range":[502,128],"nice":false,"zero":false},"axis":null}}},
  {"data":{"name":"boxB"},"mark":{"type":"bar","size":67,"stroke":"black","strokeWidth":5},
   "encoding":{
     "x":{"field":"group","type":"nominal","scale":{"type":"band","domain":["Non-immune","anti-OSCP α2"],"range":[1488,1752],"paddingInner":0,"paddingOuter":0.168,"align":0.54},"axis":null},
     "y":{"field":"q1","type":"quantitative","scale":{"domain":[0,40],"range":[502,128],"nice":false,"zero":false},"axis":null},
     "y2":{"field":"q3"},
     "fill":{"condition":{"test":"datum.group == 'Non-immune'","value":"#EE716C"},"value":"#5C6CF8"}}},
  {"data":{"name":"boxB"},"mark":{"type":"tick","orient":"horizontal","size":67,"thickness":5,"color":"black"},
   "encoding":{
     "x":{"field":"group","type":"nominal","scale":{"type":"band","domain":["Non-immune","anti-OSCP α2"],"range":[1488,1752],"paddingInner":0,"paddingOuter":0.168,"align":0.54},"axis":null},
     "y":{"field":"med","type":"quantitative","scale":{"domain":[0,40],"range":[502,128],"nice":false,"zero":false},"axis":null}}},
  {"data":{"values":[{"label":"Concentration"}]},"mark":{"type":"text","fontSize":34,"fontWeight":"bold","align":"center","baseline":"middle","dx":-7},
   "encoding":{
     "x":{"datum":"Non-immune","bandPosition":1,"type":"nominal","scale":{"type":"band","domain":["Non-immune","anti-OSCP α2"],"range":[1488,1752],"paddingInner":0,"paddingOuter":0.168,"align":0.54},"axis":null},
     "y":{"datum":50.37,"type":"quantitative","scale":{"domain":[0,40],"range":[502,128],"nice":false,"zero":false},"axis":null},
     "text":{"field":"label"}}},
  {"data":{"values":[{"label":"(0.33 µg/µL)"}]},"mark":{"type":"text","fontSize":34,"fontWeight":"bold","align":"center","baseline":"middle","dx":-7},
   "encoding":{
     "x":{"datum":"Non-immune","bandPosition":1,"type":"nominal","scale":{"type":"band","domain":["Non-immune","anti-OSCP α2"],"range":[1488,1752],"paddingInner":0,"paddingOuter":0.168,"align":0.54},"axis":null},
     "y":{"datum":45.99,"type":"quantitative","scale":{"domain":[0,40],"range":[502,128],"nice":false,"zero":false},"axis":null},
     "text":{"field":"label"}}},
  {"data":{"values":[{"label":"b"}]},"mark":{"type":"text","fontSize":36,"fontWeight":"bold","align":"center","baseline":"alphabetic","dx":-280},
   "encoding":{
     "x":{"datum":"Non-immune","type":"nominal","scale":{"type":"band","domain":["Non-immune","anti-OSCP α2"],"range":[1488,1752],"paddingInner":0,"paddingOuter":0.168,"align":0.54},"axis":null},
     "y":{"datum":50.27,"type":"quantitative","scale":{"domain":[0,40],"range":[502,128],"nice":false,"zero":false},"axis":null},
     "text":{"field":"label"}}},

  {"data":{"name":"cDots"},
   "transform":[{"bin":{"step":20,"anchor":0},"field":"oocysts","as":"ybin"},{"joinaggregate":[{"op":"count","as":"rowN"}],"groupby":["cat","ybin"]},{"window":[{"op":"row_number","as":"slot"}],"groupby":["cat","ybin"],"sort":[{"field":"oocysts","order":"ascending"}]},{"filter":"datum.rowN <= 7 && datum.rowN % 2 == 1"}],
   "mark":{"type":"point","filled":true,"size":80,"opacity":1},
   "encoding":{
     "x":{"field":"cat","type":"nominal","scale":{"type":"band","domain":["Exp. 1|Pre","Exp. 1|Post","Exp. 2|Pre","Exp. 2|Post","Exp. 3|Pre","Exp. 3|Post"],"range":[244,923],"paddingInner":0,"paddingOuter":0.385,"align":0.484},"axis":null},
     "xOffset":{"field":"slot","type":"ordinal","scale":{"domain":[6,4,2,1,3,5,7],"paddingInner":0,"paddingOuter":2.47}},
     "y":{"field":"oocysts","type":"quantitative","scale":{"domain":[0,800],"range":[1041,669.5],"nice":false,"zero":false},"axis":null},
     "color":{"condition":{"test":"indexof(datum.cat,'Pre')>=0","value":"#E5302A"},"value":"#1F34F5"}}},
  {"data":{"name":"cDots"},
   "transform":[{"bin":{"step":20,"anchor":0},"field":"oocysts","as":"ybin"},{"joinaggregate":[{"op":"count","as":"rowN"}],"groupby":["cat","ybin"]},{"window":[{"op":"row_number","as":"slot"}],"groupby":["cat","ybin"],"sort":[{"field":"oocysts","order":"ascending"}]},{"filter":"datum.rowN <= 7 && datum.rowN % 2 == 0"}],
   "mark":{"type":"point","filled":true,"size":80,"opacity":1},
   "encoding":{
     "x":{"field":"cat","type":"nominal","scale":{"type":"band","domain":["Exp. 1|Pre","Exp. 1|Post","Exp. 2|Pre","Exp. 2|Post","Exp. 3|Pre","Exp. 3|Post"],"range":[244,923],"paddingInner":0,"paddingOuter":0.385,"align":0.484},"axis":null},
     "xOffset":{"field":"slot","type":"ordinal","scale":{"domain":[7,5,3,1,2,4,6,8],"paddingInner":0,"paddingOuter":1.97}},
     "y":{"field":"oocysts","type":"quantitative","scale":{"domain":[0,800],"range":[1041,669.5],"nice":false,"zero":false},"axis":null},
     "color":{"condition":{"test":"indexof(datum.cat,'Pre')>=0","value":"#E5302A"},"value":"#1F34F5"}}},
  {"data":{"name":"cDots"},
   "transform":[{"bin":{"step":20,"anchor":0},"field":"oocysts","as":"ybin"},{"joinaggregate":[{"op":"count","as":"rowN"}],"groupby":["cat","ybin"]},{"window":[{"op":"row_number","as":"slot"}],"groupby":["cat","ybin"],"sort":[{"field":"oocysts","order":"ascending"}]},{"filter":"datum.rowN > 7 && datum.rowN % 2 == 1"}],
   "mark":{"type":"point","filled":true,"size":80,"opacity":1},
   "encoding":{
     "x":{"field":"cat","type":"nominal","scale":{"type":"band","domain":["Exp. 1|Pre","Exp. 1|Post","Exp. 2|Pre","Exp. 2|Post","Exp. 3|Pre","Exp. 3|Post"],"range":[244,923],"paddingInner":0,"paddingOuter":0.385,"align":0.484},"axis":null},
     "xOffset":{"field":"slot","type":"ordinal","scale":{"domain":[14,12,10,8,6,4,2,1,3,5,7,9,11,13,15],"paddingInner":0,"paddingOuter":2.53}},
     "y":{"field":"oocysts","type":"quantitative","scale":{"domain":[0,800],"range":[1041,669.5],"nice":false,"zero":false},"axis":null},
     "color":{"condition":{"test":"indexof(datum.cat,'Pre')>=0","value":"#E5302A"},"value":"#1F34F5"}}},
  {"data":{"name":"cDots"},
   "transform":[{"bin":{"step":20,"anchor":0},"field":"oocysts","as":"ybin"},{"joinaggregate":[{"op":"count","as":"rowN"}],"groupby":["cat","ybin"]},{"window":[{"op":"row_number","as":"slot"}],"groupby":["cat","ybin"],"sort":[{"field":"oocysts","order":"ascending"}]},{"filter":"datum.rowN > 7 && datum.rowN % 2 == 0"}],
   "mark":{"type":"point","filled":true,"size":80,"opacity":1},
   "encoding":{
     "x":{"field":"cat","type":"nominal","scale":{"type":"band","domain":["Exp. 1|Pre","Exp. 1|Post","Exp. 2|Pre","Exp. 2|Post","Exp. 3|Pre","Exp. 3|Post"],"range":[244,923],"paddingInner":0,"paddingOuter":0.385,"align":0.484},"axis":null},
     "xOffset":{"field":"slot","type":"ordinal","scale":{"domain":[15,13,11,9,7,5,3,1,2,4,6,8,10,12,14,16],"paddingInner":0,"paddingOuter":2.03}},
     "y":{"field":"oocysts","type":"quantitative","scale":{"domain":[0,800],"range":[1041,669.5],"nice":false,"zero":false},"axis":null},
     "color":{"condition":{"test":"indexof(datum.cat,'Pre')>=0","value":"#E5302A"},"value":"#1F34F5"}}},
  {"data":{"name":"cDots"},"mark":{"type":"tick","orient":"horizontal","size":58,"thickness":3,"color":"black"},
   "encoding":{
     "x":{"field":"cat","type":"nominal","scale":{"type":"band","domain":["Exp. 1|Pre","Exp. 1|Post","Exp. 2|Pre","Exp. 2|Post","Exp. 3|Pre","Exp. 3|Post"],"range":[244,923],"paddingInner":0,"paddingOuter":0.385,"align":0.484},
       "axis":{"orient":"bottom","offset":-343,"ticks":true,"tickSize":9.5,"tickWidth":3,"domainWidth":3,"title":null,"labelAngle":0,"labelFontSize":26,"labelBaseline":"middle","labelPadding":25.5,"labelExpr":"indexof(datum.value,'Pre')>=0 ? 'Pre' : 'Post'"}},
     "y":{"aggregate":"median","field":"oocysts","type":"quantitative","scale":{"domain":[0,800],"range":[1041,669.5],"nice":false,"zero":false},
       "axis":{"orient":"left","offset":-244,"values":[0,200,400,600,800],"tickSize":11,"tickWidth":3,"domainWidth":3,"labelFontSize":25,"labelPadding":19,"title":"Oocysts / midgut","titleFontSize":30,"titleFontWeight":"bold","titleX":-98,"titleBaseline":"alphabetic","titleAngle":-90}}}},
  {"data":{"name":"sigC"},"mark":{"type":"tick","orient":"horizontal","size":114,"thickness":2.5,"xOffset":50,"color":"black"},
   "encoding":{
     "x":{"field":"pre","type":"nominal","scale":{"type":"band","domain":["Exp. 1|Pre","Exp. 1|Post","Exp. 2|Pre","Exp. 2|Post","Exp. 3|Pre","Exp. 3|Post"],"range":[244,923],"paddingInner":0,"paddingOuter":0.385,"align":0.484},
       "axis":{"orient":"top","offset":-669.5,"ticks":false,"labels":false,"domain":true,"domainWidth":2.5,"title":null}},
     "y":{"datum":702,"type":"quantitative","scale":{"domain":[0,800],"range":[1041,669.5],"nice":false,"zero":false},
       "axis":{"orient":"right","offset":-1024,"ticks":false,"labels":false,"domain":true,"domainWidth":2.5,"title":null}}}},
  {"data":{"name":"sigC"},"mark":{"type":"text","fontSize":28,"align":"center","baseline":"alphabetic","dy":-1},
   "encoding":{
     "x":{"field":"pre","type":"nominal","bandPosition":1,"scale":{"type":"band","domain":["Exp. 1|Pre","Exp. 1|Post","Exp. 2|Pre","Exp. 2|Post","Exp. 3|Pre","Exp. 3|Post"],"range":[244,923],"paddingInner":0,"paddingOuter":0.385,"align":0.484},"axis":null},
     "y":{"datum":702,"type":"quantitative","scale":{"domain":[0,800],"range":[1041,669.5],"nice":false,"zero":false},"axis":null},
     "text":{"field":"stars"}}},
  {"data":{"values":[{"label":"c"}]},"mark":{"type":"text","fontSize":36,"fontWeight":"bold","align":"center","baseline":"alphabetic","dx":-314.5},
   "encoding":{
     "x":{"datum":"Exp. 1|Pre","type":"nominal","scale":{"type":"band","domain":["Exp. 1|Pre","Exp. 1|Post","Exp. 2|Pre","Exp. 2|Post","Exp. 3|Pre","Exp. 3|Post"],"range":[244,923],"paddingInner":0,"paddingOuter":0.385,"align":0.484},"axis":null},
     "y":{"datum":846.3,"type":"quantitative","scale":{"domain":[0,800],"range":[1041,669.5],"nice":false,"zero":false},"axis":null},
     "text":{"field":"label"}}},
  {"data":{"name":"tabC"},"mark":{"type":"text","fontSize":26,"align":"center","baseline":"middle"},
   "encoding":{
     "x":{"field":"cat","type":"nominal","scale":{"type":"band","domain":["Exp. 1|Pre","Exp. 1|Post","Exp. 2|Pre","Exp. 2|Post","Exp. 3|Pre","Exp. 3|Post"],"range":[244,923],"paddingInner":0,"paddingOuter":0.385,"align":0.484},"axis":null},
     "y":{"field":"row","type":"nominal","scale":{"type":"point","domain":["Exp","s1","line1","s2","No. of midguts (n)","s3","s4","Median","s5","s6","Prevalence (%)","s7","line2","s8","Inhibition of oocyst (%)","s9","line3"],"range":[1126,1379.6],"padding":0},
       "axis":{"orient":"left","offset":-264,"ticks":false,"domain":false,"title":null,"labelPadding":0,"labelFontSize":22.5,"labelFontWeight":"bold","labelBaseline":"middle","labelExpr":"datum.value == 'No. of midguts (n)' || datum.value == 'Median' || datum.value == 'Prevalence (%)' || datum.value == 'Inhibition of oocyst (%)' ? datum.value : ''"}},
     "text":{"field":"val"}}},
  {"data":{"name":"expC"},"mark":{"type":"text","fontSize":26,"align":"center","baseline":"middle"},
   "encoding":{
     "x":{"field":"pre","type":"nominal","bandPosition":1,"scale":{"type":"band","domain":["Exp. 1|Pre","Exp. 1|Post","Exp. 2|Pre","Exp. 2|Post","Exp. 3|Pre","Exp. 3|Post"],"range":[244,923],"paddingInner":0,"paddingOuter":0.385,"align":0.484},"axis":null},
     "y":{"datum":"Exp","type":"nominal","scale":{"type":"point","domain":["Exp","s1","line1","s2","No. of midguts (n)","s3","s4","Median","s5","s6","Prevalence (%)","s7","line2","s8","Inhibition of oocyst (%)","s9","line3"],"range":[1126,1379.6],"padding":0},"axis":null},
     "text":{"field":"exp"}}},
  {"data":{"name":"expC"},"mark":{"type":"text","fontSize":26,"align":"center","baseline":"middle"},
   "encoding":{
     "x":{"field":"pre","type":"nominal","bandPosition":1,"scale":{"type":"band","domain":["Exp. 1|Pre","Exp. 1|Post","Exp. 2|Pre","Exp. 2|Post","Exp. 3|Pre","Exp. 3|Post"],"range":[244,923],"paddingInner":0,"paddingOuter":0.385,"align":0.484},"axis":null},
     "y":{"datum":"Inhibition of oocyst (%)","type":"nominal","scale":{"type":"point","domain":["Exp","s1","line1","s2","No. of midguts (n)","s3","s4","Median","s5","s6","Prevalence (%)","s7","line2","s8","Inhibition of oocyst (%)","s9","line3"],"range":[1126,1379.6],"padding":0},"axis":null},
     "text":{"field":"inhib"}}},
  {"data":{"name":"expC"},"mark":{"type":"tick","orient":"horizontal","size":160,"thickness":3,"xOffset":51,"yOffset":-26,"color":"black"},
   "encoding":{
     "x":{"field":"pre","type":"nominal","scale":{"type":"band","domain":["Exp. 1|Pre","Exp. 1|Post","Exp. 2|Pre","Exp. 2|Post","Exp. 3|Pre","Exp. 3|Post"],"range":[244,923],"paddingInner":0,"paddingOuter":0.385,"align":0.484},"axis":null},
     "y":{"datum":"Exp","type":"nominal","scale":{"type":"point","domain":["Exp","s1","line1","s2","No. of midguts (n)","s3","s4","Median","s5","s6","Prevalence (%)","s7","line2","s8","Inhibition of oocyst (%)","s9","line3"],"range":[1126,1379.6],"padding":0},"axis":null}}},
  {"data":{"name":"lines"},"mark":{"type":"tick","orient":"horizontal","size":868,"thickness":2.5,"xOffset":-99,"color":"black"},
   "encoding":{
     "x":{"datum":"Exp. 2|Pre","type":"nominal","scale":{"type":"band","domain":["Exp. 1|Pre","Exp. 1|Post","Exp. 2|Pre","Exp. 2|Post","Exp. 3|Pre","Exp. 3|Post"],"range":[244,923],"paddingInner":0,"paddingOuter":0.385,"align":0.484},"axis":null},
     "y":{"field":"line","type":"nominal","scale":{"type":"point","domain":["Exp","s1","line1","s2","No. of midguts (n)","s3","s4","Median","s5","s6","Prevalence (%)","s7","line2","s8","Inhibition of oocyst (%)","s9","line3"],"range":[1126,1379.6],"padding":0},"axis":null}}},

  {"data":{"name":"dDots"},
   "transform":[{"bin":{"step":15,"anchor":0},"field":"oocysts","as":"ybin"},{"joinaggregate":[{"op":"count","as":"rowN"}],"groupby":["cat","ybin"]},{"window":[{"op":"row_number","as":"slot"}],"groupby":["cat","ybin"],"sort":[{"field":"oocysts","order":"ascending"}]},{"filter":"datum.rowN <= 7 && datum.rowN % 2 == 1"}],
   "mark":{"type":"point","filled":true,"size":80,"opacity":1},
   "encoding":{
     "x":{"field":"cat","type":"nominal","scale":{"type":"band","domain":["Exp. 1|Pre","Exp. 1|Post","Exp. 2|Pre","Exp. 2|Post","Exp. 3|Pre","Exp. 3|Post","Exp. 4|Pre","Exp. 4|Post","Exp. 5|Pre","Exp. 5|Post"],"range":[1200,1942],"paddingInner":0,"paddingOuter":0.35,"align":0.52},"axis":null},
     "xOffset":{"field":"slot","type":"ordinal","scale":{"domain":[6,4,2,1,3,5,7],"paddingInner":0,"paddingOuter":0.53}},
     "y":{"field":"oocysts","type":"quantitative","scale":{"domain":[0,800],"range":[1040,670.5],"nice":false,"zero":false},"axis":null},
     "color":{"condition":{"test":"indexof(datum.cat,'Pre')>=0","value":"#E5302A"},"value":"#1F34F5"}}},
  {"data":{"name":"dDots"},
   "transform":[{"bin":{"step":15,"anchor":0},"field":"oocysts","as":"ybin"},{"joinaggregate":[{"op":"count","as":"rowN"}],"groupby":["cat","ybin"]},{"window":[{"op":"row_number","as":"slot"}],"groupby":["cat","ybin"],"sort":[{"field":"oocysts","order":"ascending"}]},{"filter":"datum.rowN <= 7 && datum.rowN % 2 == 0"}],
   "mark":{"type":"point","filled":true,"size":80,"opacity":1},
   "encoding":{
     "x":{"field":"cat","type":"nominal","scale":{"type":"band","domain":["Exp. 1|Pre","Exp. 1|Post","Exp. 2|Pre","Exp. 2|Post","Exp. 3|Pre","Exp. 3|Post","Exp. 4|Pre","Exp. 4|Post","Exp. 5|Pre","Exp. 5|Post"],"range":[1200,1942],"paddingInner":0,"paddingOuter":0.35,"align":0.52},"axis":null},
     "xOffset":{"field":"slot","type":"ordinal","scale":{"domain":[7,5,3,1,2,4,6,8],"paddingInner":0,"paddingOuter":0.03}},
     "y":{"field":"oocysts","type":"quantitative","scale":{"domain":[0,800],"range":[1040,670.5],"nice":false,"zero":false},"axis":null},
     "color":{"condition":{"test":"indexof(datum.cat,'Pre')>=0","value":"#E5302A"},"value":"#1F34F5"}}},
  {"data":{"name":"dDots"},
   "transform":[{"bin":{"step":15,"anchor":0},"field":"oocysts","as":"ybin"},{"joinaggregate":[{"op":"count","as":"rowN"}],"groupby":["cat","ybin"]},{"window":[{"op":"row_number","as":"slot"}],"groupby":["cat","ybin"],"sort":[{"field":"oocysts","order":"ascending"}]},{"filter":"datum.rowN > 7 && datum.rowN % 2 == 1"}],
   "mark":{"type":"point","filled":true,"size":80,"opacity":1},
   "encoding":{
     "x":{"field":"cat","type":"nominal","scale":{"type":"band","domain":["Exp. 1|Pre","Exp. 1|Post","Exp. 2|Pre","Exp. 2|Post","Exp. 3|Pre","Exp. 3|Post","Exp. 4|Pre","Exp. 4|Post","Exp. 5|Pre","Exp. 5|Post"],"range":[1200,1942],"paddingInner":0,"paddingOuter":0.35,"align":0.52},"axis":null},
     "xOffset":{"field":"slot","type":"ordinal","scale":{"domain":[14,12,10,8,6,4,2,1,3,5,7,9,11,13,15],"paddingInner":0,"paddingOuter":2.7}},
     "y":{"field":"oocysts","type":"quantitative","scale":{"domain":[0,800],"range":[1040,670.5],"nice":false,"zero":false},"axis":null},
     "color":{"condition":{"test":"indexof(datum.cat,'Pre')>=0","value":"#E5302A"},"value":"#1F34F5"}}},
  {"data":{"name":"dDots"},
   "transform":[{"bin":{"step":15,"anchor":0},"field":"oocysts","as":"ybin"},{"joinaggregate":[{"op":"count","as":"rowN"}],"groupby":["cat","ybin"]},{"window":[{"op":"row_number","as":"slot"}],"groupby":["cat","ybin"],"sort":[{"field":"oocysts","order":"ascending"}]},{"filter":"datum.rowN > 7 && datum.rowN % 2 == 0"}],
   "mark":{"type":"point","filled":true,"size":80,"opacity":1},
   "encoding":{
     "x":{"field":"cat","type":"nominal","scale":{"type":"band","domain":["Exp. 1|Pre","Exp. 1|Post","Exp. 2|Pre","Exp. 2|Post","Exp. 3|Pre","Exp. 3|Post","Exp. 4|Pre","Exp. 4|Post","Exp. 5|Pre","Exp. 5|Post"],"range":[1200,1942],"paddingInner":0,"paddingOuter":0.35,"align":0.52},"axis":null},
     "xOffset":{"field":"slot","type":"ordinal","scale":{"domain":[15,13,11,9,7,5,3,1,2,4,6,8,10,12,14,16],"paddingInner":0,"paddingOuter":2.2}},
     "y":{"field":"oocysts","type":"quantitative","scale":{"domain":[0,800],"range":[1040,670.5],"nice":false,"zero":false},"axis":null},
     "color":{"condition":{"test":"indexof(datum.cat,'Pre')>=0","value":"#E5302A"},"value":"#1F34F5"}}},
  {"data":{"name":"dDots"},"mark":{"type":"tick","orient":"horizontal","size":41,"thickness":3,"color":"black"},
   "encoding":{
     "x":{"field":"cat","type":"nominal","scale":{"type":"band","domain":["Exp. 1|Pre","Exp. 1|Post","Exp. 2|Pre","Exp. 2|Post","Exp. 3|Pre","Exp. 3|Post","Exp. 4|Pre","Exp. 4|Post","Exp. 5|Pre","Exp. 5|Post"],"range":[1200,1942],"paddingInner":0,"paddingOuter":0.35,"align":0.52},
       "axis":{"orient":"bottom","offset":-344,"ticks":true,"tickSize":9.5,"tickWidth":3,"domainWidth":3,"title":null,"labelAngle":0,"labelFontSize":26,"labelBaseline":"middle","labelPadding":26.5,"labelExpr":"indexof(datum.value,'Pre')>=0 ? 'Pre' : 'Post'"}},
     "y":{"aggregate":"median","field":"oocysts","type":"quantitative","scale":{"domain":[0,800],"range":[1040,670.5],"nice":false,"zero":false},
       "axis":{"orient":"left","offset":-1200,"values":[0,200,400,600,800],"tickSize":11,"tickWidth":3,"domainWidth":3,"labelFontSize":25,"labelPadding":17,"title":"Oocysts / midgut","titleFontSize":30,"titleFontWeight":"bold","titleX":-98,"titleBaseline":"alphabetic","titleAngle":-90}}}},
  {"data":{"name":"sigD"},"mark":{"type":"tick","orient":"horizontal","size":63,"thickness":2.5,"xOffset":33,"color":"black"},
   "encoding":{
     "x":{"field":"pre","type":"nominal","scale":{"type":"band","domain":["Exp. 1|Pre","Exp. 1|Post","Exp. 2|Pre","Exp. 2|Post","Exp. 3|Pre","Exp. 3|Post","Exp. 4|Pre","Exp. 4|Post","Exp. 5|Pre","Exp. 5|Post"],"range":[1200,1942],"paddingInner":0,"paddingOuter":0.35,"align":0.52},
       "axis":{"orient":"top","offset":-670.5,"ticks":false,"labels":false,"domain":true,"domainWidth":2.5,"title":null}},
     "y":{"datum":699,"type":"quantitative","scale":{"domain":[0,800],"range":[1040,670.5],"nice":false,"zero":false},
       "axis":{"orient":"right","offset":-5,"ticks":false,"labels":false,"domain":true,"domainWidth":2.5,"title":null}}}},
  {"data":{"name":"sigD"},"mark":{"type":"text","fontSize":28,"align":"center","baseline":"alphabetic","dy":-1},
   "encoding":{
     "x":{"field":"pre","type":"nominal","bandPosition":1,"scale":{"type":"band","domain":["Exp. 1|Pre","Exp. 1|Post","Exp. 2|Pre","Exp. 2|Post","Exp. 3|Pre","Exp. 3|Post","Exp. 4|Pre","Exp. 4|Post","Exp. 5|Pre","Exp. 5|Post"],"range":[1200,1942],"paddingInner":0,"paddingOuter":0.35,"align":0.52},"axis":null},
     "y":{"datum":699,"type":"quantitative","scale":{"domain":[0,800],"range":[1040,670.5],"nice":false,"zero":false},"axis":null},
     "text":{"field":"stars"}}},
  {"data":{"values":[{"label":"d"}]},"mark":{"type":"text","fontSize":36,"fontWeight":"bold","align":"center","baseline":"alphabetic","dx":-220},
   "encoding":{
     "x":{"datum":"Exp. 1|Pre","type":"nominal","scale":{"type":"band","domain":["Exp. 1|Pre","Exp. 1|Post","Exp. 2|Pre","Exp. 2|Post","Exp. 3|Pre","Exp. 3|Post","Exp. 4|Pre","Exp. 4|Post","Exp. 5|Pre","Exp. 5|Post"],"range":[1200,1942],"paddingInner":0,"paddingOuter":0.35,"align":0.52},"axis":null},
     "y":{"datum":848.7,"type":"quantitative","scale":{"domain":[0,800],"range":[1040,670.5],"nice":false,"zero":false},"axis":null},
     "text":{"field":"label"}}},
  {"data":{"name":"tabD"},"mark":{"type":"text","fontSize":26,"align":"center","baseline":"middle"},
   "encoding":{
     "x":{"field":"cat","type":"nominal","scale":{"type":"band","domain":["Exp. 1|Pre","Exp. 1|Post","Exp. 2|Pre","Exp. 2|Post","Exp. 3|Pre","Exp. 3|Post","Exp. 4|Pre","Exp. 4|Post","Exp. 5|Pre","Exp. 5|Post"],"range":[1200,1942],"paddingInner":0,"paddingOuter":0.35,"align":0.52},"axis":null},
     "y":{"field":"row","type":"nominal","scale":{"type":"point","domain":["Exp","s1","line1","s2","No. of midguts (n)","s3","s4","Median","s5","s6","Prevalence (%)","s7","line2","s8","Inhibition of oocyst (%)","s9","line3"],"range":[1126,1379.6],"padding":0},
       "axis":{"orient":"left","offset":-1215,"ticks":false,"domain":false,"title":null,"labelPadding":0,"labelFontSize":22.5,"labelFontWeight":"bold","labelBaseline":"middle","labelExpr":"datum.value == 'No. of midguts (n)' || datum.value == 'Median' || datum.value == 'Prevalence (%)' || datum.value == 'Inhibition of oocyst (%)' ? datum.value : ''"}},
     "text":{"field":"val"}}},
  {"data":{"name":"expD"},"mark":{"type":"text","fontSize":26,"align":"center","baseline":"middle"},
   "encoding":{
     "x":{"field":"pre","type":"nominal","bandPosition":1,"scale":{"type":"band","domain":["Exp. 1|Pre","Exp. 1|Post","Exp. 2|Pre","Exp. 2|Post","Exp. 3|Pre","Exp. 3|Post","Exp. 4|Pre","Exp. 4|Post","Exp. 5|Pre","Exp. 5|Post"],"range":[1200,1942],"paddingInner":0,"paddingOuter":0.35,"align":0.52},"axis":null},
     "y":{"datum":"Exp","type":"nominal","scale":{"type":"point","domain":["Exp","s1","line1","s2","No. of midguts (n)","s3","s4","Median","s5","s6","Prevalence (%)","s7","line2","s8","Inhibition of oocyst (%)","s9","line3"],"range":[1126,1379.6],"padding":0},"axis":null},
     "text":{"field":"exp"}}},
  {"data":{"name":"expD"},"mark":{"type":"text","fontSize":26,"align":"center","baseline":"middle"},
   "encoding":{
     "x":{"field":"pre","type":"nominal","bandPosition":1,"scale":{"type":"band","domain":["Exp. 1|Pre","Exp. 1|Post","Exp. 2|Pre","Exp. 2|Post","Exp. 3|Pre","Exp. 3|Post","Exp. 4|Pre","Exp. 4|Post","Exp. 5|Pre","Exp. 5|Post"],"range":[1200,1942],"paddingInner":0,"paddingOuter":0.35,"align":0.52},"axis":null},
     "y":{"datum":"Inhibition of oocyst (%)","type":"nominal","scale":{"type":"point","domain":["Exp","s1","line1","s2","No. of midguts (n)","s3","s4","Median","s5","s6","Prevalence (%)","s7","line2","s8","Inhibition of oocyst (%)","s9","line3"],"range":[1126,1379.6],"padding":0},"axis":null},
     "text":{"field":"inhib"}}},
  {"data":{"name":"expD"},"mark":{"type":"tick","orient":"horizontal","size":114,"thickness":3,"xOffset":34.7,"yOffset":-26,"color":"black"},
   "encoding":{
     "x":{"field":"pre","type":"nominal","scale":{"type":"band","domain":["Exp. 1|Pre","Exp. 1|Post","Exp. 2|Pre","Exp. 2|Post","Exp. 3|Pre","Exp. 3|Post","Exp. 4|Pre","Exp. 4|Post","Exp. 5|Pre","Exp. 5|Post"],"range":[1200,1942],"paddingInner":0,"paddingOuter":0.35,"align":0.52},"axis":null},
     "y":{"datum":"Exp","type":"nominal","scale":{"type":"point","domain":["Exp","s1","line1","s2","No. of midguts (n)","s3","s4","Median","s5","s6","Prevalence (%)","s7","line2","s8","Inhibition of oocyst (%)","s9","line3"],"range":[1126,1379.6],"padding":0},"axis":null}}},
  {"data":{"name":"lines"},"mark":{"type":"tick","orient":"horizontal","size":970,"thickness":2.5,"xOffset":-97.7,"color":"black"},
   "encoding":{
     "x":{"datum":"Exp. 3|Pre","type":"nominal","scale":{"type":"band","domain":["Exp. 1|Pre","Exp. 1|Post","Exp. 2|Pre","Exp. 2|Post","Exp. 3|Pre","Exp. 3|Post","Exp. 4|Pre","Exp. 4|Post","Exp. 5|Pre","Exp. 5|Post"],"range":[1200,1942],"paddingInner":0,"paddingOuter":0.35,"align":0.52},"axis":null},
     "y":{"field":"line","type":"nominal","scale":{"type":"point","domain":["Exp","s1","line1","s2","No. of midguts (n)","s3","s4","Median","s5","s6","Prevalence (%)","s7","line2","s8","Inhibition of oocyst (%)","s9","line3"],"range":[1126,1379.6],"padding":0},"axis":null}}}
]
}
